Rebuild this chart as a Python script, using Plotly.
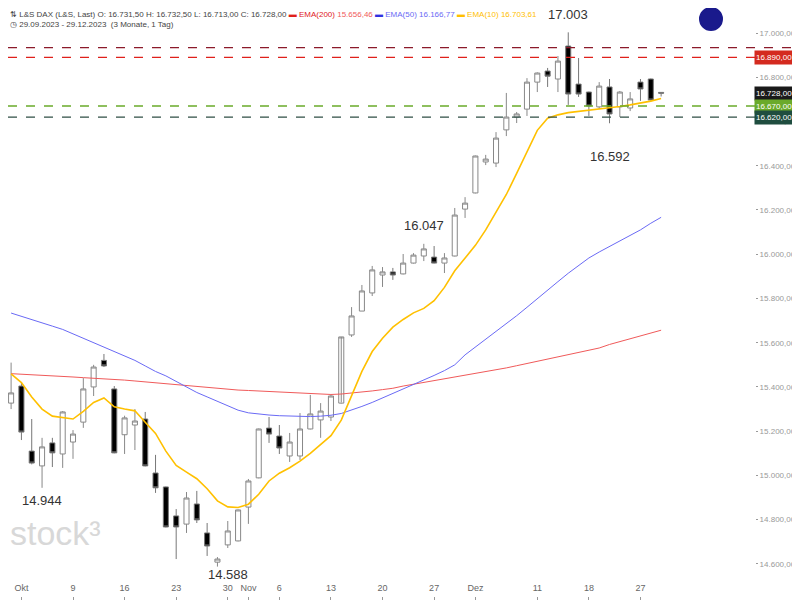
import pandas as pd
import plotly.graph_objects as go

# trading days 29.09.2023 - 29.12.2023
days = pd.bdate_range("2023-09-29", "2023-12-29")
days = days[~days.isin(pd.to_datetime(["2023-12-25", "2023-12-26"]))]
idx = list(range(len(days)))

opens = [15327, 15404, 15110, 15043, 15147, 15097, 15151, 15241, 15400, 15520,
         15391, 15184, 15228, 15255, 15011, 14948, 14817, 14780, 14871, 14740,
         14608, 14686, 14704, 14857, 14989, 15214, 15178, 15088, 15088, 15210,
         15251, 15264, 15327, 15635, 15743, 15825, 15906, 15920, 15911, 15960,
         15992, 15987, 15960, 15992, 16204, 16277, 16417, 16412, 16562, 16620,
         16656, 16778, 16828, 16792, 16941, 16769, 16733, 16666, 16756, 16666,
         16661, 16778, 16792, 16731.5]
highs = [15510, 15420, 15255, 15170, 15170, 15291, 15205, 15440, 15500, 15549,
         15404, 15270, 15300, 15287, 15093, 14950, 14848, 14925, 14930, 14785,
         14631, 14794, 14846, 14984, 15212, 15264, 15228, 15192, 15282, 15364,
         15327, 15364, 15330, 15761, 15861, 15947, 15942, 15938, 16001, 16005,
         16047, 16037, 16005, 16209, 16258, 16446, 16449, 16552, 16729, 16643,
         16796, 16822, 16842, 16896, 17003, 16887, 16735, 16778, 16792, 16738,
         16733, 16792, 16794, 16732.5]
lows = [15300, 15160, 15050, 14944, 15038, 15034, 15075, 15215, 15359, 15490,
        15100, 15097, 15115, 15041, 14921, 14765, 14622, 14740, 14785, 14636,
        14588, 14672, 14702, 14781, 14987, 15147, 15097, 15061, 15070, 15208,
        15170, 15246, 15325, 15626, 15743, 15811, 15852, 15884, 15909, 15958,
        15969, 15958, 15915, 15990, 16164, 16275, 16403, 16394, 16534, 16593,
        16625, 16733, 16756, 16733, 16675, 16711, 16625, 16656, 16592, 16620,
        16647, 16693, 16695, 16713]
closes = [15373, 15196, 15056, 15129, 15102, 15287, 15187, 15391, 15490, 15495,
          15102, 15260, 15246, 15043, 14944, 14767, 14767, 14898, 14799, 14681,
          14622, 14749, 14844, 14975, 15210, 15187, 15124, 15151, 15210, 15278,
          15291, 15359, 15626, 15721, 15834, 15929, 15920, 15906, 15960, 15996,
          16024, 15960, 15983, 16177, 16231, 16444, 16430, 16525, 16620, 16634,
          16778, 16819, 16805, 16873, 16724, 16724, 16670, 16760, 16634, 16733,
          16702, 16747, 16697, 16728]

ema200 = [15460, 15458, 15455, 15452, 15450, 15447, 15445, 15442, 15440, 15437,
          15434, 15431, 15427, 15423, 15419, 15415, 15410, 15405, 15400, 15396,
          15392, 15389, 15386, 15384, 15382, 15380, 15378, 15376, 15374, 15372,
          15370, 15366, 15368, 15372, 15377, 15382, 15388, 15394, 15404, 15412,
          15420, 15428, 15436, 15444, 15452, 15460, 15468, 15476, 15486, 15496,
          15506, 15516, 15526, 15536, 15546, 15556, 15566, 15576, 15592, 15605,
          15617, 15629, 15642, 15656.46]
ema50 = [15734, 15720, 15705, 15690, 15675, 15660, 15640, 15620, 15600, 15580,
         15560, 15540, 15520, 15495, 15470, 15450, 15425, 15400, 15375, 15355,
         15335, 15315, 15295, 15283, 15277, 15273, 15270, 15268, 15267, 15266,
         15268, 15272, 15280, 15295, 15312, 15330, 15350, 15370, 15390, 15410,
         15432, 15452, 15474, 15500, 15545, 15580, 15615, 15650, 15685, 15722,
         15760, 15800, 15838, 15876, 15914, 15950, 15983, 16010, 16035, 16060,
         16085, 16110, 16140, 16166.77]
ema10 = [15459, 15420, 15355, 15300, 15268, 15262, 15255, 15290, 15330, 15350,
         15310, 15300, 15292, 15240, 15190, 15110, 15045, 15015, 14985, 14940,
         14885, 14858, 14855, 14870, 14915, 14975, 15010, 15035, 15065, 15100,
         15140, 15180, 15250, 15360, 15470, 15560, 15620, 15670, 15705, 15735,
         15755, 15790, 15850, 15925, 15980, 16040, 16110, 16190, 16270, 16365,
         16460, 16560, 16615, 16630, 16640, 16645, 16652, 16656, 16660, 16668,
         16675, 16682, 16692, 16703.61]

tick_idx = [1, 6, 11, 16, 21, 23, 26, 31, 36, 41, 45, 51, 56, 61]
tick_txt = ["Okt", "9", "16", "23", "30", "Nov", "6", "13", "20", "27", "Dez", "11", "18", "27"]

levels = [16934, 16890, 16670, 16620]
level_colors = ["#8b1a2a", "#e0201b", "#6aaa2a", "#2f4f45"]

W, H = 792, 592
PW = W - 45  # plot width in px; paper x beyond 1 reaches the right margin
PH = H - 4
XR = W / PW

fig = go.Figure()
fig.add_trace(go.Scatter(x=idx, y=ema200, mode="lines", line=dict(color="#f05a5a", width=1)))
fig.add_trace(go.Scatter(x=idx, y=ema50, mode="lines", line=dict(color="#6a6af5", width=1)))
fig.add_trace(go.Candlestick(
    x=idx, open=opens, high=highs, low=lows, close=closes, whiskerwidth=0,
    increasing=dict(fillcolor="white", line=dict(color="#888888", width=1)),
    decreasing=dict(fillcolor="black", line=dict(color="#777777", width=1)),
))
fig.add_trace(go.Scatter(x=idx, y=ema10, mode="lines", line=dict(color="#ffc000", width=1.6)))

for lv, c in zip(levels, level_colors):
    fig.add_shape(type="line", xref="paper", x0=0, x1=XR, y0=lv, y1=lv,
                  line=dict(color=c, width=1.3, dash="dash"))

# price badges on the right
badges = [(16890, "16.890,00", "#d42a1f"), (16728, "16.728,00", "#1a1a1a"),
          (16670, "16.670,00", "#6aaa2a"), (16620, "16.620,00", "#1f4d3f")]
for v, t, c in badges:
    fig.add_annotation(x=XR - 0.008, xref="paper", y=v, text=t, showarrow=False, xanchor="right",
                       height=11, bgcolor=c, font=dict(color="white", size=8), borderpad=1)

labels = [(54, 17085, "17.003"), (58, 16440, "16.592"), (40, 16130, "16.047"),
          (3, 14885, "14.944"), (21, 14550, "14.588")]
for xi, yv, t in labels:
    fig.add_annotation(x=xi, y=yv, text=t, showarrow=False, font=dict(size=13, color="#333"))

fig.add_annotation(x=0.0, xref="paper", y=1.0, yref="paper", xanchor="left", yanchor="top",
                   showarrow=False, align="left",
                   text="⇅ L&S DAX (L&S, Last) O: 16.731,50 H: 16.732,50 L: 16.713,00 C: 16.728,00 "
                        "<span style='color:#e0201b'>▬ EMA(200)</span> <span style='color:#f05a5a'>15.656,46</span> "
                        "<span style='color:#3030e0'>▬</span> <span style='color:#6a6af5'>EMA(50) 16.166,77</span> "
                        "<span style='color:#ffc000'>▬ EMA(10) 16.703,61</span><br>◷ 29.09.2023 - 29.12.2023  (3 Monate, 1 Tag)",
                   font=dict(size=8, color="#444"))
fig.add_annotation(x=0.0, xref="paper", y=14740, yref="y", xanchor="left", showarrow=False,
                   text="stock³", font=dict(size=34, color="#d8d8d8"))
fig.add_shape(type="circle", xref="paper", yref="paper", x0=692 / PW, x1=714 / PW,
              y0=1 - 22 / PH, y1=1.0, fillcolor="#1a1a8c", line=dict(color="#1a1a8c"))

fig.update_layout(
    width=W, height=H, margin=dict(l=0, r=45, t=0, b=4),
    plot_bgcolor="white", paper_bgcolor="white", showlegend=False, separators=",.",
    font=dict(family="Liberation Sans, Arial", color="#555"),
    xaxis=dict(range=[-0.3, 72.1], tickvals=tick_idx, ticktext=tick_txt, showgrid=False,
               rangeslider=dict(visible=False), ticks="outside", ticklen=3, tickcolor="#999",
               ticklabelposition="inside", tickfont=dict(size=9, color="#666"), zeroline=False),
    yaxis=dict(range=[14455, 17113], side="right", tickformat=",.2f", automargin=False,
               dtick=200, showgrid=False, zeroline=False, tickfont=dict(size=8, color="#999"),
               ticks="outside", ticklen=2, tickcolor="#999"),
)

fig.write_html("out.html")
